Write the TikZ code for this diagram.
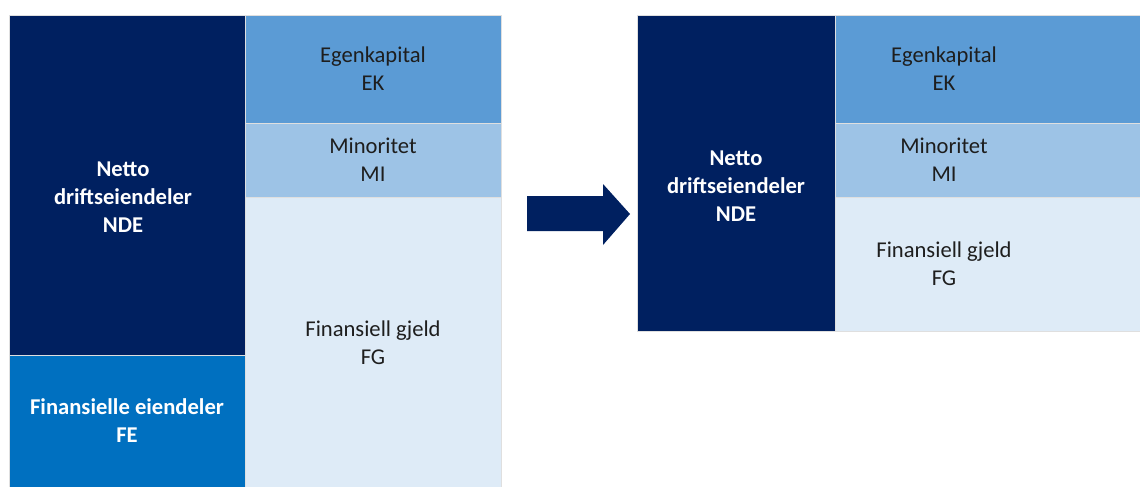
\documentclass[tikz,border=0pt]{standalone}
\usepackage{fontspec}
\setmainfont{Carlito}
\usepackage{tikz}
\usetikzlibrary{positioning}
\definecolor{ndeNavy}{RGB}{0, 32, 96}
\definecolor{feBlue}{RGB}{0, 112, 192}
\definecolor{ekBlue}{RGB}{91, 155, 213}
\definecolor{miBlue}{RGB}{157, 195, 230}
\definecolor{fgBlue}{RGB}{222, 235, 247}
\definecolor{txtDark}{RGB}{30, 30, 30}
\tikzset{
  balbox/.style={rectangle, draw=gray!25, line width=0.8pt, inner sep=0pt},
  boxNDE/.style={balbox, fill=ndeNavy},
  boxFE/.style={balbox, fill=feBlue},
  boxEK/.style={balbox, fill=ekBlue},
  boxMI/.style={balbox, fill=miBlue},
  boxFG/.style={balbox, fill=fgBlue},
  txtW/.style={align=center, text=white, inner sep=0pt,
               font=\fontsize{22.6}{28}\selectfont\bfseries},
  txtD/.style={align=center, text=txtDark, inner sep=0pt,
               font=\fontsize{22.6}{28}\selectfont},
}

\begin{document}
\begin{tikzpicture}[x=1pt, y=-1pt]
    \useasboundingbox (0,0) rectangle (1140,487);

    % Balance before
    \node[boxNDE, minimum width=236, minimum height=340] (NDE) at (127,185) {};
    \node[boxFE, minimum width=236, minimum height=137] (FE) at (127,423.5) {};
    \node[boxEK, minimum width=256, minimum height=108] (EK) at (373,69) {};
    \node[boxMI, minimum width=256, minimum height=74] (MI) at (373,160) {};
    \node[boxFG, minimum width=256, minimum height=295] (FG) at (373,344.5) {};

    \node[txtW] (NDEtxt) at (123,197) {Netto\\driftseiendeler\\NDE};
    \node[txtW] (FEtxt) at (127,421) {Finansielle eiendeler\\FE};
    \node[txtD] (EKtxt) at (373,69) {Egenkapital\\EK};
    \node[txtD] (MItxt) at (373,160) {Minoritet\\MI};
    \node[txtD] (FGtxt) at (373,343) {Finansiell gjeld\\FG};

    % Block arrow
    \fill[ndeNavy] (527,196) -- (603,196) -- (603,184) -- (630,214)
        -- (603,245) -- (603,231) -- (527,231) -- cycle;

    % Balance after
    \node[boxNDE, minimum width=198, minimum height=316] (NDE2) at (736,173) {};
    \node[boxEK, minimum width=310, minimum height=108] (EK2) at (990,69) {};
    \node[boxMI, minimum width=310, minimum height=74] (MI2) at (990,160) {};
    \node[boxFG, minimum width=310, minimum height=134] (FG2) at (990,264) {};

    \node[txtW] (NDE2txt) at (736,186) {Netto\\driftseiendeler\\NDE};
    \node[txtD] (EK2txt) at (944,69) {Egenkapital\\EK};
    \node[txtD] (MI2txt) at (944,160) {Minoritet\\MI};
    \node[txtD] (FG2txt) at (944,264) {Finansiell gjeld\\FG};
\end{tikzpicture}
\end{document}
